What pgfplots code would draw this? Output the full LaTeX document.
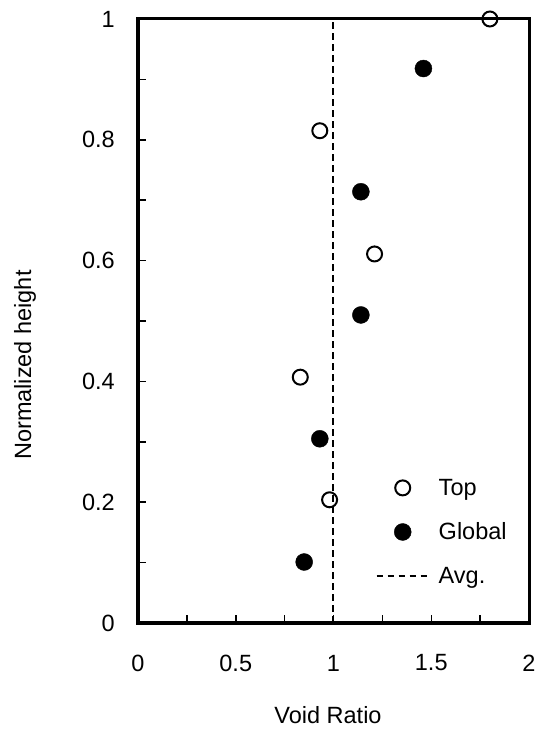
\documentclass[border=0pt]{standalone}
\usepackage{fontspec}
\setmainfont{Liberation Sans}
\usepackage{pgfplots}
\pgfplotsset{compat=1.18}
\newcommand\bigf{\fontsize{23.5bp}{28bp}\selectfont}
\pgfplotsset{
  markleg/.style={legend image code/.code={\draw[##1] plot coordinates {(26bp,0bp)};}},
  lineleg/.style={legend image code/.code={\draw[##1] (0bp,0bp) -- (52bp,0bp);}},
}
\pgfplotstableread{
x y
1.80 1.000
0.93 0.815
1.21 0.611
0.83 0.407
0.98 0.204
}\toptable
\pgfplotstableread{
x y
1.46 0.918
1.14 0.714
1.14 0.510
0.93 0.305
0.85 0.101
}\globaltable
\begin{document}
\begin{tikzpicture}
\useasboundingbox (0,0) rectangle (539bp,729bp);
\begin{axis}[
  at={(138bp,106bp)}, anchor=south west,
  scale only axis, width=391bp, height=604bp,
  xmin=0, xmax=2, ymin=0, ymax=1,
  xtick={0,0.5,1,1.5,2}, ytick={0,0.2,0.4,0.6,0.8,1},
  minor x tick num=1, minor y tick num=1,
  xtick pos=lower, ytick pos=left,
  tick align=inside,
  major tick length=8bp, minor tick length=8bp,
  every tick/.style={black, line width=1.5bp},
  axis line style={line width=3bp, line join=miter},
  /pgf/number format/assume math mode=true,
  tick label style={font=\bigf},
  xticklabel style={anchor=center, inner sep=0pt, yshift=-40bp},
  yticklabel style={anchor=east, inner sep=0pt, xshift=-23bp},
  xlabel={Void Ratio}, ylabel={Normalized height},
  label style={font=\bigf},
  xlabel style={at={(axis description cs:0.486,-0.152)}, anchor=center},
  ylabel style={at={(axis description cs:-0.289,0.427)}, anchor=center},
  clip=false,
  legend cell align=left,
  legend style={draw=none, fill=none, font=\bigf,
    at={(axis cs:1.215,0.1507)}, anchor=west,
    row sep=24bp, inner sep=0pt,
    nodes={inner sep=1bp}},
]
\addplot[only marks, mark=o, mark size=7.5bp, mark options={line width=2bp, black, fill=white}, markleg]
  table[x=x,y=y] {\toptable};
\addlegendentry{\hspace{8bp}Top}
\addplot[only marks, mark=*, mark size=8.5bp, mark options={black, fill=black}, markleg]
  table[x=x,y=y] {\globaltable};
\addlegendentry{\hspace{8bp}Global}
\addplot[black, line width=2bp, dash pattern=on 6.5bp off 4.5bp, lineleg]
  coordinates {(0.995,0) (0.995,1)};
\addlegendentry{\hspace{8bp}Avg.}
\end{axis}
\end{tikzpicture}
\end{document}
